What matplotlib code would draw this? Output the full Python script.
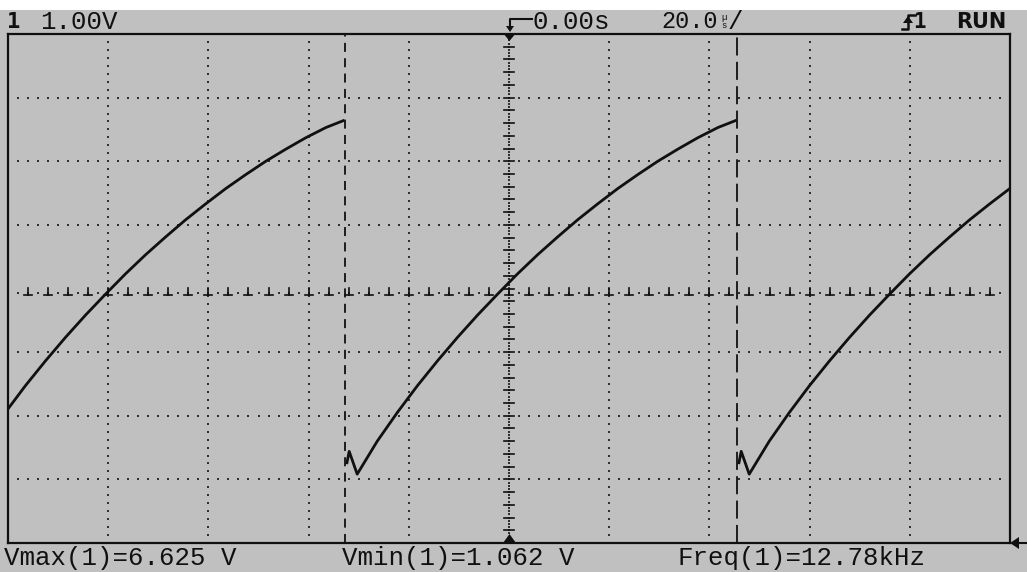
import numpy as np
import matplotlib.pyplot as plt
from matplotlib.lines import Line2D
from matplotlib.patches import Polygon, Rectangle

# scope settings (1.00 V/div, 20.0 us/div, trigger at 0.00 s)
volts_per_div = 1.00
us_per_div = 20.0
freq_khz = 12.78
vmax = 6.625
vmin = 1.062
cursor_start = -32.7     # us, first edge marker

# one charging cycle, time from the reset edge (us) and level (V)
cycle_t = [0.3, 0.8, 2.4, 6.4, 10.4, 14.4, 18.4, 22.4, 26.4, 30.4, 34.4,
           38.4, 42.4, 46.4, 50.4, 54.4, 58.4, 62.4, 66.4, 70.4, 74.4, 78.1]
cycle_v = [1.22, 1.42, vmin, 1.58, 2.03, 2.45, 2.84, 3.21, 3.56, 3.89, 4.21,
           4.51, 4.79, 5.06, 5.31, 5.55, 5.77, 5.98, 6.17, 6.35, 6.51, vmax]

bottom_labels = ["Vmax(1)=6.625 V", "Vmin(1)=1.062 V", "Freq(1)=12.78kHz"]

BG = "#c0c0c0"
INK = "#101010"
W, H = 1027, 572

fig = plt.figure(figsize=(W / 100, H / 100), dpi=100, facecolor=BG)


def px(x, y):
    return x / W, 1 - y / H


# white strip along the very top
fig.patches.append(Rectangle((0, 1 - 10 / H), 1, 10 / H, transform=fig.transFigure,
                             facecolor="white", edgecolor="none"))

left, right, top, bottom = 8, 1010, 34, 543
ax = fig.add_axes([left / W, 1 - bottom / H, (right - left) / W, (bottom - top) / H])
ax.set_facecolor(BG)

center_v = 3.98
ax.set_xlim(-5 * us_per_div, 5 * us_per_div)
ax.set_ylim(center_v - 4 * volts_per_div, center_v + 4 * volts_per_div)
ax.set_xticks([])
ax.set_yticks([])
for s in ax.spines.values():
    s.set_color(INK)
    s.set_linewidth(1.6)

x0, x1 = ax.get_xlim()
y0, y1 = ax.get_ylim()

# dotted graticule
dot = dict(ls="none", marker="s", ms=1.5, mew=0, color="#303030")
for k in range(1, 10):
    if k == 5:
        continue
    xg = x0 + k * us_per_div
    ys = np.arange(y0, y1, volts_per_div / 8)[1:]
    ax.plot(np.full_like(ys, xg), ys, **dot)
for k in range(1, 8):
    if k == 4:
        continue
    yg = y0 + k * volts_per_div
    xs = np.arange(x0, x1, us_per_div / 10)[1:]
    ax.plot(xs, np.full_like(xs, yg), **dot)

# center axes with minor ticks
ys = np.arange(y0, y1, volts_per_div / 20)[1:]
ax.plot(np.zeros_like(ys), ys, **dot)
for yt in np.arange(y0, y1, volts_per_div / 5)[1:]:
    ax.plot([-0.9, 0.9], [yt, yt], color=INK, lw=1.2)
axis_v = center_v - 0.1
xs = np.arange(x0, x1, us_per_div / 10)[1:]
ax.plot(xs, np.full_like(xs, axis_v + 0.03), **dot)
for xt in np.arange(x0, x1, us_per_div / 5)[1:]:
    ax.plot([xt, xt], [axis_v, axis_v + 0.11], color=INK, lw=1.2)
    ax.plot([xt - 0.8, xt + 0.8], [axis_v, axis_v], color=INK, lw=1.2)

# waveform, one segment per cycle
period = 1000.0 / freq_khz
for n in range(-1, 2):
    t = np.array(cycle_t) + cursor_start + n * period
    ax.plot(t, cycle_v, color=INK, lw=2.0, solid_capstyle="butt", clip_on=True)

# edge markers
ax.axvline(cursor_start, color=INK, lw=1.3, dashes=(5, 3.5))
ax.axvline(cursor_start + period, color=INK, lw=1.3, dashes=(10, 3.5))

# trigger / ground markers
for pts in ([(503, 33), (516, 33), (509.5, 41)],
            [(503, 543), (516, 543), (509.5, 534)],
            [(1010, 543), (1019, 537), (1019, 549)]):
    fig.patches.append(Polygon([px(*p) for p in pts], closed=True,
                               transform=fig.transFigure, facecolor=INK, edgecolor="none"))
fig.lines.append(Line2D([px(1019, 0)[0], px(1027, 0)[0]], [px(0, 543)[1]] * 2,
                        transform=fig.transFigure, color=INK, lw=1.5))

mono = dict(family="Liberation Mono", fontsize=18.5, color=INK, va="center", ha="left")

# top status line
fig.text(*px(7, 22), "1", family="DejaVu Sans Mono", fontsize=16, fontweight="bold",
         color=INK, va="center", ha="left")
fig.text(*px(40, 22), "1.00V", **mono)
fig.lines.append(Line2D(*zip(px(532, 19), px(510, 19), px(510, 27)),
                        transform=fig.transFigure, color=INK, lw=1.5))
fig.patches.append(Polygon([px(506, 26), px(514, 26), px(510, 32)], closed=True,
                           transform=fig.transFigure, facecolor=INK, edgecolor="none"))
fig.text(*px(532, 22), "0.00s", **mono)
fig.text(*px(661, 22), "20.0", **{**mono, "fontsize": 17})
fig.text(*px(724, 21.5), "µ\ns", family="Liberation Mono", fontsize=6.5, color=INK,
         va="center", ha="center", linespacing=0.85)
fig.text(*px(728, 22), "/", **mono)

# trigger slope symbol
fig.lines.append(Line2D(*zip(px(902, 29), px(908, 29), px(908, 15), px(915, 15)),
                        transform=fig.transFigure, color=INK, lw=1.8))
fig.patches.append(Polygon([px(903, 23), px(913, 23), px(908, 16)], closed=True,
                           transform=fig.transFigure, facecolor=INK, edgecolor="none"))
fig.text(*px(913, 22), "1", family="DejaVu Sans Mono", fontsize=15, fontweight="bold",
         color=INK, va="center", ha="left")
fig.text(*px(956, 22), "RUN", family="DejaVu Sans", fontsize=15, fontweight="bold",
         color=INK, va="center", ha="left")

# measurement line
for xpos, label in zip([4, 342, 678], bottom_labels):
    fig.text(*px(xpos, 558), label, **mono)

fig.savefig("out.png", dpi=100, facecolor=BG)
